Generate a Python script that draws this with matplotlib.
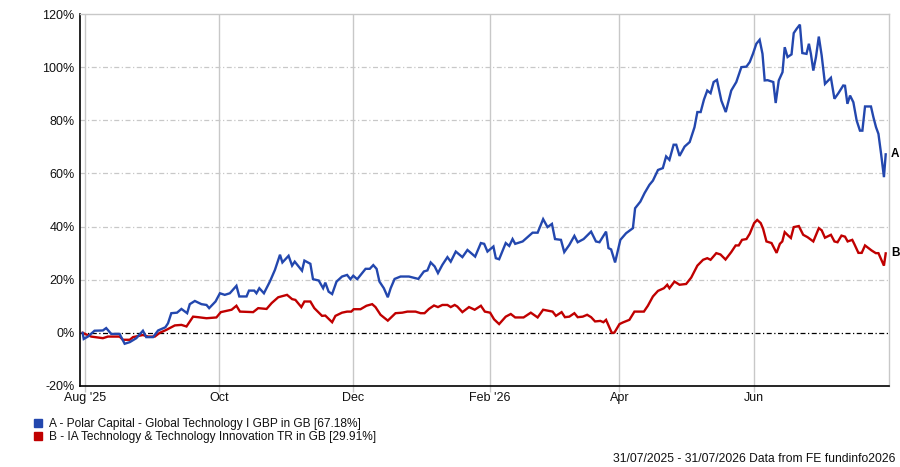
import datetime as dt
import matplotlib
matplotlib.use("Agg")
import matplotlib.pyplot as plt
from matplotlib.patches import Rectangle
from matplotlib.ticker import FuncFormatter

# ---------------- data (days since 31/07/2025, cumulative % return) -------------
start_date = dt.date(2025, 7, 31)

a_days = [0, 0.5, 2.4, 5.4, 9.2, 10.7, 13.0, 16.8, 19.1, 21.4,
          24.4, 27.4, 28.9, 32.0, 34.3, 37.6, 38.8, 40.3, 42.9, 44.9,
          47.5, 48.7, 51.0, 54.0, 56.3, 57.5, 60.4, 62.4, 64.6, 66.9,
          69.9, 71.2, 74.5, 75.6, 78.0, 79.0, 80.3, 82.4, 85.1, 87.4,
          89.7, 90.8, 93.6, 95.2, 96.4, 99.7, 100.8, 103.5, 104.7, 107.3,
          109.3, 110.3, 111.8, 113.4, 115.4, 117.9, 120.2, 121.7, 123.0, 124.8,
          128.6, 130.5, 132.1, 133.6, 134.9, 136.9, 138.7, 140.0, 141.8, 144.5,
          148.3, 152.6, 155.1, 156.7, 158.2, 160.0, 161.5, 163.5, 165.8, 167.3,
          169.6, 172.6, 174.9, 178.4, 181.0, 182.5, 184.0, 186.7, 187.8, 189.3,
          192.3, 193.9, 195.4, 196.6, 200.0, 204.5, 206.8, 209.3, 211.3, 213.3,
          214.7, 217.4, 218.9, 221.2, 223.5, 225.0, 227.7, 231.1, 233.3, 234.9,
          237.9, 239.0, 240.2, 242.0, 244.4, 247.0, 250.1, 251.1, 253.5, 255.4,
          257.6, 259.2, 261.5, 263.7, 265.2, 266.7, 268.6, 269.8, 271.3, 272.8,
          273.6, 275.9, 278.1, 279.4, 280.9, 282.4, 283.9, 285.4, 286.8, 288.3,
          290.3, 292.3, 294.8, 297.1, 299.4, 301.7, 303.2, 304.7, 306.2, 307.7,
          309.0, 310.0, 311.3, 313.9, 315.0, 316.4, 318.1, 319.1, 320.4, 322.2,
          323.2, 324.5, 326.0, 327.1, 329.0, 330.1, 331.0, 332.1, 333.3, 334.6,
          335.9, 337.4, 340.1, 341.7, 343.5, 345.7, 346.5, 347.6, 348.8, 350.3,
          351.8, 353.3, 354.4, 355.6, 358.3, 359.4, 360.6, 361.7, 362.9, 364.2,
          365.0]
a_vals = [0, -2.3, -1.4, 0.8, 0.9, 1.8, -0.4, -0.4, -4.1, -3.5,
          -2.0, 0.8, -1.6, -1.6, 0.9, 2.1, 3.6, 7.4, 7.6, 9.0,
          7.4, 10.8, 12.0, 10.8, 10.5, 9.3, 11.8, 14.9, 14.3, 14.9,
          17.7, 13.7, 13.7, 15.9, 15.9, 14.9, 16.8, 14.9, 19.3, 23.7,
          29.4, 26.5, 29.0, 25.3, 26.8, 23.4, 27.2, 26.0, 20.2, 19.7,
          16.8, 18.9, 15.5, 14.6, 19.3, 21.2, 21.8, 20.2, 21.5, 20.2,
          24.1, 24.1, 25.5, 24.1, 19.3, 16.8, 13.4, 16.8, 20.3, 21.2,
          21.2, 20.3, 23.1, 23.5, 26.5, 25.0, 22.5, 25.6, 28.5, 26.8,
          30.6, 28.5, 31.2, 28.7, 33.8, 33.5, 30.6, 32.5, 28.1, 27.7,
          33.8, 32.7, 35.3, 33.5, 34.4, 37.7, 37.7, 42.8, 39.8, 41.0,
          35.3, 35.0, 30.4, 33.1, 36.5, 34.1, 35.3, 38.1, 34.4, 34.1,
          38.1, 31.9, 31.4, 26.5, 35.0, 37.5, 39.4, 46.9, 49.4, 52.6,
          55.7, 57.3, 61.3, 62.0, 66.4, 65.1, 70.8, 70.8, 66.6, 68.9,
          70.1, 71.8, 77.4, 83.1, 83.1, 87.8, 91.2, 90.2, 94.4, 95.2,
          87.4, 83.1, 91.2, 94.4, 100.0, 100.2, 101.9, 105.1, 108.8, 110.3,
          105.0, 95.0, 95.1, 94.4, 86.5, 95.0, 98.1, 107.5, 103.8, 104.8,
          112.8, 114.4, 116.0, 105.3, 105.0, 108.8, 105.0, 98.7, 103.8, 111.5,
          104.4, 93.7, 96.0, 88.1, 90.2, 93.1, 93.0, 86.2, 89.3, 86.8,
          79.9, 76.1, 76.1, 85.2, 85.2, 81.2, 77.4, 74.9, 67.4, 58.6,
          67.18]

b_days = [0, 3.9, 9.2, 11.5, 16.8, 18.3, 21.4, 22.9, 27.4, 29.7,
          32.8, 35.0, 38.0, 41.9, 44.9, 47.2, 50.2, 52.5, 56.3, 60.8,
          62.8, 67.7, 69.9, 71.5, 77.5, 79.8, 83.6, 85.9, 88.9, 92.9,
          95.2, 96.7, 99.4, 100.8, 103.5, 105.3, 108.8, 110.3, 113.4, 114.9,
          117.9, 120.2, 122.1, 123.2, 126.3, 129.0, 131.6, 133.1, 135.4, 138.7,
          142.2, 145.3, 147.6, 151.3, 153.6, 155.4, 157.4, 159.7, 161.5, 163.5,
          165.8, 167.3, 169.1, 170.3, 172.6, 175.6, 178.2, 181.0, 182.8, 185.2,
          187.0, 189.3, 192.3, 194.6, 196.6, 200.4, 203.7, 206.8, 209.3, 213.6,
          215.1, 217.7, 219.2, 221.2, 223.5, 225.0, 227.3, 229.3, 231.1, 232.9,
          235.3, 236.7, 237.9, 240.5, 241.7, 244.0, 245.5, 248.5, 250.8, 255.1,
          256.9, 259.2, 261.5, 264.2, 265.7, 266.7, 269.0, 271.3, 274.3, 276.6,
          279.4, 282.0, 283.9, 285.4, 288.0, 289.9, 292.2, 294.8, 296.8, 298.2,
          299.7, 301.7, 303.2, 305.2, 306.6, 308.2, 309.3, 310.8, 313.1, 315.4,
          316.9, 318.0, 319.1, 320.7, 321.9, 323.2, 325.5, 327.5, 329.5, 332.1,
          334.6, 335.9, 337.4, 340.1, 341.7, 343.1, 344.9, 346.5, 347.7, 349.8,
          350.7, 352.6, 354.1, 355.6, 358.6, 360.5, 361.7, 364.2, 365.0]
b_vals = [0, -1.4, -2.0, -1.4, -1.4, -2.6, -2.6, -1.6, -0.8, -1.4,
          -1.4, 0.0, 1.1, 2.8, 3.0, 2.4, 6.1, 5.9, 5.5, 5.8,
          7.8, 8.7, 10.2, 8.0, 7.8, 9.3, 9.0, 11.2, 13.4, 14.3,
          12.7, 12.4, 9.7, 11.8, 11.8, 9.3, 6.4, 6.5, 4.0, 6.4,
          7.6, 8.0, 8.0, 8.9, 8.9, 10.2, 10.8, 9.7, 6.8, 4.6,
          7.4, 7.6, 8.0, 8.0, 7.4, 7.4, 9.0, 10.3, 9.7, 10.5,
          10.5, 9.7, 10.5, 9.9, 7.8, 9.7, 8.7, 10.2, 8.0, 7.6,
          5.1, 3.3, 6.1, 7.1, 5.8, 5.8, 7.6, 5.8, 8.7, 8.0,
          6.4, 7.8, 5.9, 6.1, 7.4, 5.9, 6.1, 6.8, 5.9, 4.3,
          4.5, 4.0, 4.9, 0.0, 0.1, 3.3, 3.9, 4.9, 8.0, 8.0,
          10.2, 13.7, 15.8, 16.8, 18.1, 16.8, 19.3, 18.1, 18.4, 20.8,
          25.3, 27.5, 28.1, 27.5, 30.0, 29.5, 27.6, 30.4, 32.9, 32.9,
          35.0, 35.3, 37.3, 41.3, 42.5, 41.3, 39.1, 34.4, 33.8, 30.1,
          33.5, 34.4, 37.9, 36.6, 35.7, 39.8, 40.2, 36.9, 36.0, 34.4,
          39.4, 38.6, 35.8, 36.9, 34.4, 34.1, 36.6, 36.2, 34.4, 35.0,
          33.5, 30.1, 30.1, 32.9, 31.0, 30.0, 30.0, 25.3, 29.91]

tick_dates = [dt.date(2025, 8, 1), dt.date(2025, 10, 1), dt.date(2025, 12, 1),
              dt.date(2026, 2, 1), dt.date(2026, 4, 1), dt.date(2026, 6, 1)]
tick_labels = ["Aug '25", "Oct", "Dec", "Feb '26", "Apr", "Jun"]
y_ticks = [-20, 0, 20, 40, 60, 80, 100, 120]

legend_labels = ["A - Polar Capital - Global Technology I GBP in GB [67.18%]",
                 "B - IA Technology & Technology Innovation TR in GB [29.91%]"]
end_labels = ["A", "B"]
footer = "31/07/2025 - 31/07/2026 Data from FE fundinfo2026"

# ---------------- style --------------------------------------------------------
BLUE = "#2347AE"
RED = "#C00000"
GRID = "#C8C8C8"
plt.rcParams["font.family"] = ["Liberation Sans", "DejaVu Sans"]

W, H = 900, 467
fig = plt.figure(figsize=(W / 100, H / 100), dpi=100)
fig.patch.set_facecolor("white")
ax = fig.add_axes([80 / W, 1 - 386 / H, 809 / W, 372 / H])

ax.plot(a_days, a_vals, color=BLUE, lw=1.7, solid_joinstyle="miter", zorder=4)
ax.plot(b_days, b_vals, color=RED, lw=1.7, solid_joinstyle="miter", zorder=3)

ax.set_xlim(-1.2, 366.5)
ax.set_ylim(-20, 120)

xt = [(d - start_date).days for d in tick_dates]
ax.set_xticks(xt)
ax.set_xticklabels(tick_labels)
ax.set_yticks(y_ticks)
ax.yaxis.set_major_formatter(FuncFormatter(lambda v, p: f"{v:.0f}%"))

for x in xt:
    ax.axvline(x, color=GRID, lw=1.0, zorder=1)
for y in y_ticks:
    if y in (-20, 120, 0):
        continue
    ax.axhline(y, color=GRID, lw=0.9, ls=(0, (4, 2, 1, 2)), zorder=1)
ax.axhline(0, color="black", lw=0.9, ls=(0, (4, 2, 1, 2)), zorder=2)

ax.tick_params(axis="x", length=4, color=GRID, width=1, labelsize=9, pad=0,
               labelcolor="#111111")
ax.tick_params(axis="y", length=0, labelsize=9, pad=4, labelcolor="#111111")

for s in ("top", "right"):
    ax.spines[s].set_color(GRID)
    ax.spines[s].set_linewidth(1.0)
for s in ("left", "bottom"):
    ax.spines[s].set_color("black")
    ax.spines[s].set_linewidth(1.2)

# end labels
for lab, ys in ((end_labels[0], a_vals), (end_labels[1], b_vals)):
    ax.annotate(lab, xy=(366.5, ys[-1]), xytext=(1.5, 0), textcoords="offset points",
                ha="left", va="center", fontsize=8.5, fontweight="bold",
                annotation_clip=False)

# legend
for i, (lab, col) in enumerate(zip(legend_labels, (BLUE, RED))):
    yc = 423 + i * 13
    fig.patches.append(Rectangle((34 / W, 1 - (yc + 4) / H), 8 / W, 8 / H,
                                 transform=fig.transFigure, color=col))
    fig.text(49 / W, 1 - (yc + 1) / H, lab, ha="left", va="center", fontsize=8.6,
             color="#111111")

fig.text(895 / W, 1 - 459 / H, footer, ha="right", va="center", fontsize=8.7,
         color="#111111")

fig.savefig("out.png", dpi=100)
